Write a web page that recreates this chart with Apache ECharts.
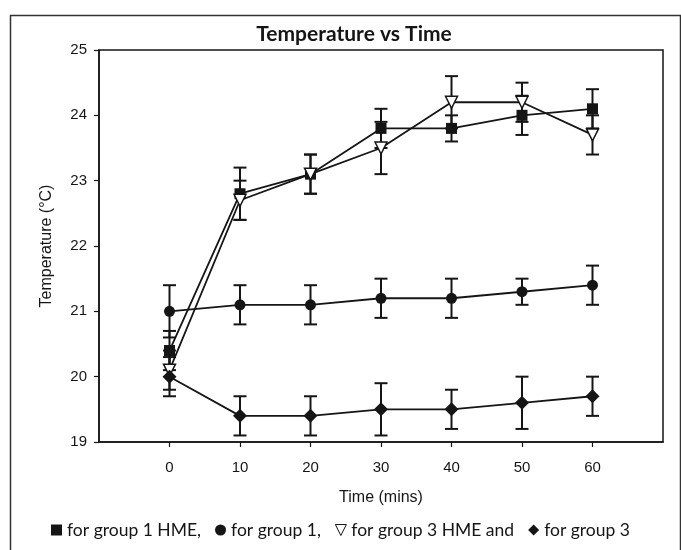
<!DOCTYPE html>
<html>
<head>
<meta charset="utf-8">
<script src="https://cdn.jsdelivr.net/npm/echarts@6/dist/echarts.min.js"></script>
<style>html,body{margin:0;padding:0;background:#fff}#c{width:681px;height:550px}</style>
</head>
<body>
<div id="c"></div>
<script>
const timePoints = [0, 10, 20, 30, 40, 50, 60];
const xTicks = [0, 10, 20, 30, 40, 50, 60];
const yTicks = [19, 20, 21, 22, 23, 24, 25];

const g1HME = [20.4, 22.8, 23.1, 23.8, 23.8, 24.0, 24.1];
const g1HMEErr = [0.3, 0.4, 0.3, 0.3, 0.2, 0.3, 0.3];
const g1 = [21.0, 21.1, 21.1, 21.2, 21.2, 21.3, 21.4];
const g1Err = [0.4, 0.3, 0.3, 0.3, 0.3, 0.2, 0.3];
const g3HME = [20.1, 22.7, 23.1, 23.5, 24.2, 24.2, 23.7];
const g3HMEErr = [0.3, 0.3, 0.3, 0.4, 0.4, 0.3, 0.3];
const g3 = [20.0, 19.4, 19.4, 19.5, 19.5, 19.6, 19.7];
const g3Err = [0.3, 0.3, 0.3, 0.4, 0.3, 0.4, 0.3];

const names = ['for group 1 HME,', 'for group 1,', 'for group 3 HME and', 'for group 3'];

const INK = '#151515';

function errRender(params, api) {
  const x = api.value(0), m = api.value(1), e = api.value(2);
  const top = api.coord([x, m + e]);
  const bot = api.coord([x, m - e]);
  const w = 6.5;
  const st = { stroke: INK, lineWidth: 2 };
  return {
    type: 'group',
    children: [
      { type: 'line', shape: { x1: top[0], y1: top[1], x2: bot[0], y2: bot[1] }, style: st },
      { type: 'line', shape: { x1: top[0] - w, y1: top[1], x2: top[0] + w, y2: top[1] }, style: st },
      { type: 'line', shape: { x1: bot[0] - w, y1: bot[1], x2: bot[0] + w, y2: bot[1] }, style: st }
    ]
  };
}

function pts(vals) { return timePoints.map((t, i) => [t, vals[i]]); }
function errPts(vals, errs) { return timePoints.map((t, i) => [t, vals[i], errs[i]]); }

function errSeries(vals, errs) {
  return {
    type: 'custom', renderItem: errRender, data: errPts(vals, errs), z: 1,
    silent: true, encode: { x: 0, y: [1, 2] }
  };
}

function lineSeries(name, vals, symbol, size, fill, rotate) {
  return {
    name: name, type: 'line', data: pts(vals), symbol: symbol, symbolSize: size,
    symbolRotate: rotate || 0, showAllSymbol: true, z: 3,
    lineStyle: { color: INK, width: 1.8 },
    itemStyle: { color: fill, borderColor: INK, borderWidth: fill === '#fff' ? 1.5 : 0 },
    emphasis: { disabled: true }
  };
}

const chart = echarts.init(document.getElementById('c'), null, { renderer: 'canvas' });
chart.setOption({
  animation: false,
  backgroundColor: '#fff',
  title: {
    text: 'Temperature vs Time', left: 349, textAlign: 'center', top: 19,
    textStyle: { fontFamily: 'Lato', fontWeight: 'bold', fontSize: 21, color: INK }
  },
  graphic: [{
    type: 'rect', left: 8, top: 13, shape: { width: 670, height: 600 },
    style: { fill: 'none', stroke: '#333', lineWidth: 1.5 }, silent: true, z: -1
  }],
  legend: {
    bottom: 6, left: 'center', itemWidth: 11, itemHeight: 11, itemGap: 14,
    textStyle: { fontFamily: 'Lato', fontSize: 17.5, color: INK },
    selectedMode: false,
    data: [
      { name: names[0], icon: 'rect', itemStyle: { color: INK } },
      { name: names[1], icon: 'circle', itemStyle: { color: INK } },
      { name: names[2], icon: 'path://M0,0 L10,0 L5,10 Z', itemStyle: { color: '#fff', borderColor: INK, borderWidth: 1 } },
      { name: names[3], icon: 'diamond', itemStyle: { color: INK } }
    ]
  },
  grid: { left: 99, right: 18, top: 50, bottom: 108, show: true, borderColor: INK, borderWidth: 1.5 },
  xAxis: {
    type: 'value', min: -10, max: 70, interval: 10,
    name: 'Time (mins)', nameLocation: 'middle', nameGap: 48,
    nameTextStyle: { fontFamily: 'Liberation Sans', fontSize: 16, color: INK },
    axisLine: { show: true, onZero: false, lineStyle: { color: INK, width: 1.5 } },
    axisTick: { show: true, inside: false, length: 5, customValues: xTicks, lineStyle: { color: INK, width: 1.2 } },
    axisLabel: { customValues: xTicks, margin: 18, fontFamily: 'Liberation Sans', fontSize: 15, color: INK },
    splitLine: { show: false }
  },
  yAxis: {
    type: 'value', min: 19, max: 25, interval: 1,
    name: 'Temperature (°C)', nameLocation: 'middle', nameGap: 44,
    nameTextStyle: { fontFamily: 'Liberation Sans', fontSize: 16, color: INK },
    axisLine: { show: true, onZero: false, lineStyle: { color: INK, width: 1.5 } },
    axisTick: { show: true, inside: false, length: 5, customValues: yTicks, lineStyle: { color: INK, width: 1.2 } },
    axisLabel: { customValues: yTicks, margin: 12, fontFamily: 'Liberation Sans', fontSize: 15, color: INK },
    splitLine: { show: false }
  },
  series: [
    errSeries(g1HME, g1HMEErr),
    errSeries(g1, g1Err),
    errSeries(g3HME, g3HMEErr),
    errSeries(g3, g3Err),
    lineSeries(names[0], g1HME, 'rect', 11, INK),
    lineSeries(names[1], g1, 'circle', 11, INK),
    lineSeries(names[2], g3HME, 'triangle', 12, '#fff', 180),
    lineSeries(names[3], g3, 'diamond', 14, INK)
  ]
});
</script>
</body>
</html>
